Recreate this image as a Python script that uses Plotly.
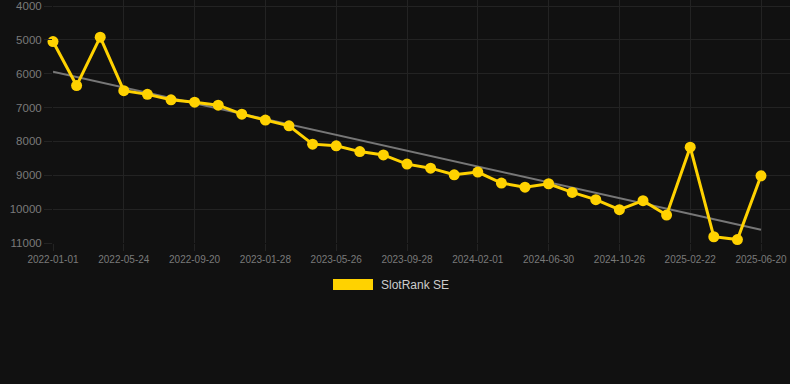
import plotly.graph_objects as go

# ---- data ----
dates = [
    "2022-01-01", "2022-02-18", "2022-04-07", "2022-05-24", "2022-07-03", "2022-08-11",
    "2022-09-20", "2022-11-02", "2022-12-15", "2023-01-28", "2023-03-08", "2023-04-16",
    "2023-05-26", "2023-07-05", "2023-08-17", "2023-09-28", "2023-11-09", "2023-12-21",
    "2024-02-01", "2024-03-20", "2024-05-10", "2024-06-30", "2024-08-08", "2024-09-17",
    "2024-10-26", "2024-12-04", "2025-01-13", "2025-02-22", "2025-04-01", "2025-05-10",
    "2025-06-20",
]
rank = [
    5050, 6350, 4920, 6500, 6610, 6770, 6840, 6930, 7195, 7370, 7540, 8080,
    8130, 8300, 8400, 8670, 8790, 8985, 8905, 9230, 9350, 9250, 9505, 9720,
    10015, 9750, 10175, 8170, 10815, 10900, 9015,
]
trend_dates = [dates[0], dates[-1]]
trend_vals = [5940, 10610]
tick_labels = dates[::3]
y_ticks = [4000, 5000, 6000, 7000, 8000, 9000, 10000, 11000]
y_tick_text = [str(v) for v in y_ticks]
series_name = "SlotRank SE"

# ---- style ----
BG = "#111111"
GRID = "#232323"
TICKC = "#7a7a7a"
YELLOW = "#FFD200"
FONT = "Liberation Sans, Arial, sans-serif"

fig = go.Figure()
fig.add_trace(go.Scatter(
    x=trend_dates, y=trend_vals, mode="lines",
    line=dict(color="#777777", width=2), showlegend=False, hoverinfo="skip",
    cliponaxis=False,
))
fig.add_trace(go.Scatter(
    x=dates, y=rank, mode="lines+markers", name=series_name,
    line=dict(color=YELLOW, width=3),
    marker=dict(color=YELLOW, size=11),
    showlegend=False, cliponaxis=False,
))

W, H = 790, 384
L, T, B = 53, 0, 141
pw = W - L
ph = H - T - B

fig.update_layout(
    width=W, height=H,
    margin=dict(l=L, r=0, t=T, b=B, pad=0),
    paper_bgcolor=BG, plot_bgcolor=BG,
    font=dict(family=FONT, color=TICKC, size=12),
    showlegend=False,
    xaxis=dict(
        type="category", categoryorder="array", categoryarray=dates,
        range=[0, 30 + 29 / 23.6],
        tickmode="array", tickvals=tick_labels, ticktext=tick_labels,
        showgrid=True, gridcolor=GRID, gridwidth=1,
        ticks="outside", ticklen=7, tickcolor=GRID,
        tickfont=dict(size=10, color=TICKC, family=FONT),
        ticklabeloverflow="allow",
        showline=False, zeroline=False,
    ),
    yaxis=dict(
        range=[11000, 4000 - 6 / 33.86 * 1000],
        tickmode="array", tickvals=y_ticks, ticktext=y_tick_text,
        showgrid=True, gridcolor=GRID, gridwidth=1,
        ticks="outside", ticklen=8, tickcolor=GRID,
        tickfont=dict(size=11.5, color=TICKC, family=FONT),
        ticklabeloverflow="allow",
        showline=False, zeroline=False,
    ),
    shapes=[dict(
        type="rect", xref="paper", yref="paper",
        x0=(333 - L) / pw, x1=(373 - L) / pw,
        y0=(ph - 279) / ph, y1=(ph - 290) / ph,
        fillcolor=YELLOW, line=dict(width=0),
    )],
    annotations=[dict(
        text=series_name, xref="paper", yref="paper",
        x=(379 - L) / pw, y=(ph - 284.5) / ph,
        xanchor="left", yanchor="middle", showarrow=False,
        font=dict(size=12, color="#cccccc", family=FONT),
    )],
)

fig.write_html(
    "out.html",
    config={"displayModeBar": False},
    post_script="document.body.style.margin='0';document.body.style.background='#111111';document.body.style.overflow='hidden';",
)
